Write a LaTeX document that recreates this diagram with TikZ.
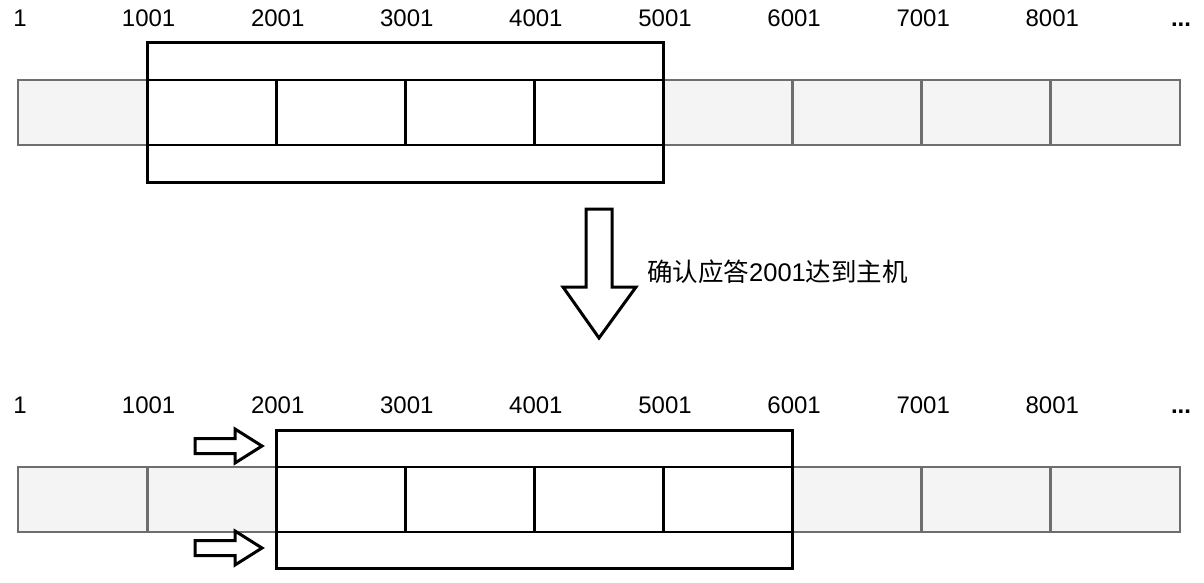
\documentclass[tikz,border=0pt]{standalone}
\usepackage{fontspec}
\setmainfont{Liberation Sans}
\newfontfamily\cjk{Noto Sans CJK SC}
\definecolor{cellgray}{HTML}{6E6E6E}
\definecolor{cellfill}{HTML}{F4F4F4}
\begin{document}
\begin{tikzpicture}[x=1pt,y=-1pt,
  cell/.style={draw=cellgray, fill=cellfill, line width=2.8pt, minimum width=129.1pt, minimum height=65pt, inner sep=0pt, outer sep=0pt, anchor=north west},
  wcell/.style={cell, draw=black, fill=white},
  frame/.style={draw=black, line width=3pt},
  lbl/.style={font=\fontsize{24}{28}\selectfont, inner sep=0pt, anchor=base},
  bigarrow/.style={draw=black, fill=white, line width=3pt, line join=miter}
]
\useasboundingbox (0,0) rectangle (1204,583);
% ---------- top row ----------
\foreach \i in {0,...,8} \node[cell] (t\i) at ({18+129.1*\i},80) {};
\foreach \i in {1,...,4} \node[wcell] (tw\i) at ({18+129.1*\i},80) {};
\draw[frame] (t1.north west) -- (t1.north west |- 0,43) coordinate (twa) -- (t4.north east |- 0,43) coordinate (twb) -- (t4.north east);
\draw[frame] (t1.south west) -- (t1.south west |- 0,182) -- (t4.south east |- 0,182) -- (t4.south east);
% labels top
\node[lbl] (l0) at (20,27) {1};
\foreach \i/\t in {1/1001,2/2001,3/3001,4/4001,5/5001,6/6001,7/7001,8/8001}
  \node[lbl] (l\i) at ({18+129.1*\i+1.5},27) {\t};
\node[lbl] (ldots) at (1181,27) {\textbf{...}};
% ---------- big arrow ----------
\draw[bigarrow] (586,209) -- (612,209) -- (612,287) -- (636,287) -- (599,338) -- (563,287) -- (586,287) -- cycle;
\node[font=\fontsize{25.5}{30}\selectfont, inner sep=0pt, anchor=west] (ack) at (647,272) {{\cjk 确认应答}2001{\cjk 达到主机}};
% ---------- bottom row ----------
\foreach \i in {0,...,8} \node[cell] (b\i) at ({18+129.1*\i},467) {};
\foreach \i in {2,...,5} \node[wcell] (bw\i) at ({18+129.1*\i},467) {};
\draw[frame] (b2.north west) -- (b2.north west |- 0,430) -- (b5.north east |- 0,430) -- (b5.north east);
\draw[frame] (b2.south west) -- (b2.south west |- 0,568) -- (b5.south east |- 0,568) -- (b5.south east);
% labels bottom
\node[lbl] (m0) at (20,413) {1};
\foreach \i/\t in {1/1001,2/2001,3/3001,4/4001,5/5001,6/6001,7/7001,8/8001}
  \node[lbl] (m\i) at ({18+129.1*\i+1.5},413) {\t};
\node[lbl] (mdots) at (1181,413) {\textbf{...}};
% small arrows
\foreach \c in {446,548}
  \draw[bigarrow] (195,\c-7.5) -- (235,\c-7.5) -- (235,\c-17) -- (262,\c) -- (235,\c+17) -- (235,\c+7.5) -- (195,\c+7.5) -- cycle;
\end{tikzpicture}
\end{document}
